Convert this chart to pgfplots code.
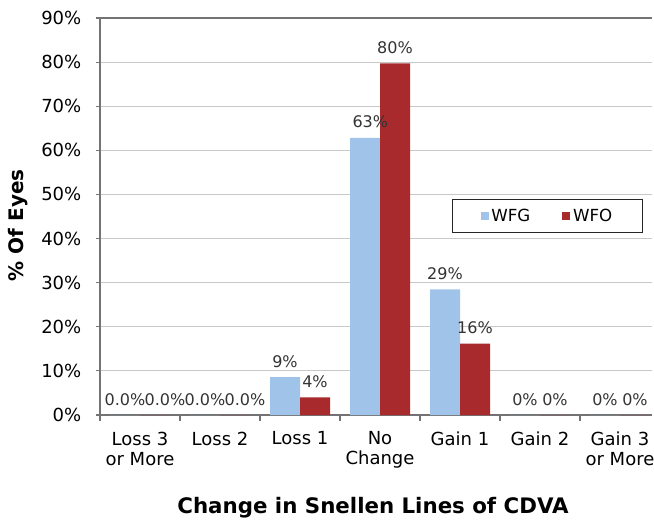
\documentclass[border=0pt]{standalone}
\usepackage{fontspec}
\setmainfont{DejaVu Sans}
\usepackage{pgfplots}
\pgfplotsset{compat=1.18}
\definecolor{wfg}{RGB}{160,195,233}
\definecolor{wfo}{RGB}{168,42,45}
\definecolor{axgray}{RGB}{115,115,115}
\definecolor{gridgray}{RGB}{200,200,200}

\begin{document}
\begin{tikzpicture}
\begin{axis}[
  scale only axis, width=414pt, height=297.75pt,
  xmin=-0.5, xmax=6.4, ymin=0, ymax=90,
  axis lines=left, axis line style={-, axgray, line width=1pt},
  ybar, bar width=22.5pt,
  xtick={0,...,6},
  xticklabels={{Loss 3\\or More},{Loss 2},{Loss 1},{No\\Change},{Gain 1},{Gain 2},{Gain 3\\or More}},
  xticklabel style={align=center, font=\fontsize{13.5}{15}\selectfont, yshift=-6pt},
  major x tick style={draw=none},
  minor xtick={-0.5,0.5,...,5.5},
  minor x tick style={axgray, line width=0.8pt},
  minor tick length=4.5pt,
  tick align=outside,
  ytick={0,10,...,90},
  yticklabel={\pgfmathprintnumber{\tick}\%},
  yticklabel style={font=\fontsize{13.5}{15}\selectfont, xshift=-7.5pt},
  /pgf/number format/assume math mode=true,
  major y tick style={axgray, line width=0.8pt},
  major tick length=3pt,
  ymajorgrids, grid style={gridgray, line width=0.8pt},
  xlabel={\textbf{Change in Snellen Lines of CDVA}},
  xlabel style={font=\fontsize{16}{18}\selectfont, at={(axis description cs:0.4946,-0.234)}, anchor=center},
  ylabel={\textbf{\% Of Eyes}},
  ylabel style={font=\fontsize{15}{17}\selectfont, at={(axis description cs:-0.1486,0.478)}, anchor=center},
  point meta=explicit symbolic,
  nodes near coords,
  every node near coord/.append style={font=\fontsize{12}{14}\selectfont, text=black!80, anchor=base, yshift=7.5pt, inner sep=0pt},
  legend columns=2,
  legend style={at={(rel axis cs:0.638,0.544)}, anchor=north west, draw=black!85, line width=0.8pt,
    font=\fontsize{12.5}{14}\selectfont, inner xsep=21pt, inner ysep=5pt,
    /tikz/every even column/.append style={column sep=22pt}},
  legend image code/.code={\fill[#1, draw=none] (0pt,-3pt) rectangle (6pt,3pt);},
  clip=false,
]
\addplot[bar shift=-11.25pt, fill=wfg, draw=none] coordinates {
  (0,0) [0.0\%] (1,0) [0.0\%] (2,8.6) [9\%] (3,62.8) [\kern8pt63\%]
  (4,28.5) [29\%] (5,0) [0\%] (6,0) [0\%]
};
\addlegendentry{WFG}
\addplot[bar shift=11.25pt, fill=wfo, draw=none] coordinates {
  (0,0) [\kern15pt0.0\%] (1,0) [\kern15pt0.0\%] (2,4.0) [4\%] (3,79.7) [80\%]
  (4,16.2) [16\%] (5,0) [0\%] (6,0) [0\%]
};
\addlegendentry{WFO}
\draw[axgray, line width=0.8pt] (rel axis cs:0,1) -- (rel axis cs:1,1);
\coordinate (sw) at (rel axis cs:0,0);
\coordinate (ne) at (rel axis cs:1,1);
\end{axis}
\pgfresetboundingbox
\path ([shift={(-75pt,-78pt)}]sw) rectangle ([shift={(1.5pt,13.5pt)}]ne);
\end{tikzpicture}
\end{document}
